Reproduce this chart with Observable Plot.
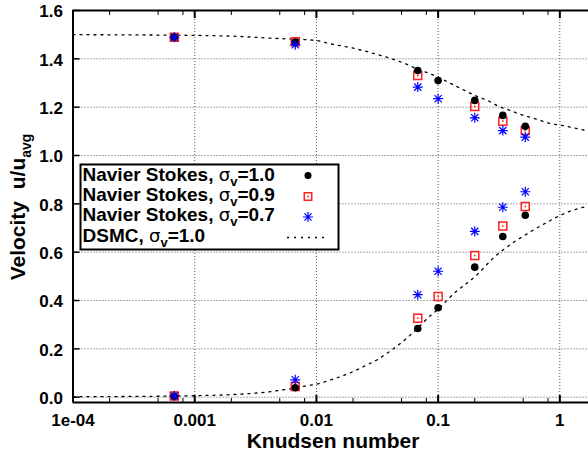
<!DOCTYPE html>
<html><head><meta charset="utf-8">
<script src="https://cdn.jsdelivr.net/npm/d3@7"></script>
<script src="https://cdn.jsdelivr.net/npm/@observablehq/plot@0.6"></script>
<style>body{margin:0;background:#fff;} svg{display:block}</style>
</head><body><div id="chart"></div>
<script>
// Knudsen numbers of the Navier-Stokes runs
const kn = [0.00068, 0.0067, 0.068, 0.1, 0.2, 0.34, 0.52];
// centre-line (upper) and wall (lower) velocities
const ns10Center = [1.489, 1.469, 1.352, 1.310, 1.228, 1.166, 1.121];
const ns10Wall   = [0.004, 0.039, 0.284, 0.370, 0.538, 0.665, 0.753];
const ns09Center = [1.489, 1.471, 1.331, null, 1.203, 1.142, 1.103];
const ns09Wall   = [0.005, 0.044, 0.327, 0.417, 0.586, 0.708, 0.789];
const ns07Center = [1.489, 1.458, 1.283, 1.235, 1.156, 1.103, 1.076];
const ns07Wall   = [0.006, 0.072, 0.424, 0.521, 0.686, 0.786, 0.850];

// DSMC curves
const dsmcUpperKn = [1e-4, 3e-4, 1e-3, 2e-3, 4.4e-3, 0.01, 0.0123, 0.0201, 0.0317, 0.0519, 0.068, 0.0865, 0.134, 0.161, 0.202, 0.254, 0.313, 0.393, 0.502, 0.630, 0.791, 1.05, 1.29, 1.72];
const dsmcUpper   = [1.500, 1.499, 1.497, 1.494, 1.485, 1.476, 1.465, 1.444, 1.418, 1.383, 1.357, 1.338, 1.292, 1.272, 1.248, 1.228, 1.204, 1.186, 1.166, 1.152, 1.135, 1.124, 1.115, 1.101];
const dsmcLowerKn = [1e-4, 3e-4, 1e-3, 3e-3, 3.9e-3, 5e-3, 8.1e-3, 0.0108, 0.0126, 0.0168, 0.0209, 0.0261, 0.0316, 0.0381, 0.0475, 0.0573, 0.0693, 0.0837, 0.101, 0.134, 0.202, 0.286, 0.418, 0.539, 0.787, 1.15, 1.72];
const dsmcLower   = [0.002, 0.003, 0.006, 0.016, 0.021, 0.028, 0.046, 0.058, 0.069, 0.090, 0.110, 0.134, 0.155, 0.182, 0.217, 0.251, 0.290, 0.331, 0.366, 0.428, 0.500, 0.577, 0.641, 0.676, 0.724, 0.765, 0.791];

// axis ticks
const xMajor = [1e-4, 1e-3, 1e-2, 1e-1, 1];
const xLabels = ["1e-04", "0.001", "0.01", "0.1", "1"];
const xMinor = [2e-4, 5e-4, 8e-4, 2e-3, 5e-3, 8e-3, 2e-2, 5e-2, 8e-2, 0.2, 0.5, 0.8];
const yMajor = [0, 0.2, 0.4, 0.6, 0.8, 1.0, 1.2, 1.4, 1.6];

const xDomain = [1e-4, 1.72];
const yDomain = [-0.022, 1.6];

function rows(yy) {
  const out = [];
  kn.forEach((k, i) => { if (yy[i] != null) out.push({x: k, y: yy[i]}); });
  return out;
}
const pairs = (xs, ys) => xs.map((x, i) => ({x, y: ys[i]}));

const asterisk8 = {
  draw(ctx, size) {
    const r = Math.sqrt(size / Math.PI);
    const d = r * 0.72;
    ctx.moveTo(0, -r); ctx.lineTo(0, r);
    ctx.moveTo(-r, 0); ctx.lineTo(r, 0);
    ctx.moveTo(-d, -d); ctx.lineTo(d, d);
    ctx.moveTo(-d, d); ctx.lineTo(d, -d);
  }
};

const red = "#ff2020", blue = "#0000ff";
const black10 = rows(ns10Center).concat(rows(ns10Wall));
const red09 = rows(ns09Center).concat(rows(ns09Wall));
const blue07 = rows(ns07Center).concat(rows(ns07Wall));
const labelMap = new Map(xMajor.map((d, i) => [d, xLabels[i]]));

const gridStyle = {stroke: "#555", strokeOpacity: 1, strokeWidth: 1, strokeDasharray: "1,2"};
const dashStyle = {stroke: "black", strokeWidth: 1.3, strokeDasharray: "2,5"};

const chart = Plot.plot({
  width: 588, height: 455,
  marginLeft: 72.5, marginRight: 0, marginTop: 10, marginBottom: 53,
  x: {type: "log", domain: xDomain, label: null},
  y: {domain: yDomain, label: null},
  style: {fontFamily: "'Liberation Sans', Arial, sans-serif", fontWeight: "bold", fontSize: "17px", color: "black", background: "white", overflow: "visible"},
  marks: [
    Plot.gridX(xMajor.slice(1), gridStyle),
    Plot.gridY(yMajor.slice(0, -1), gridStyle),
    Plot.axisX(xMajor, {anchor: "bottom", tickSize: 0, tickPadding: 11, tickFormat: d => labelMap.get(d), label: null, fontSize: 17}),
    Plot.axisX(xMajor, {anchor: "bottom", tickSize: -7, strokeWidth: 2, tickFormat: () => "", label: null}),
    Plot.axisX(xMinor, {anchor: "bottom", tickSize: -4, strokeWidth: 1, tickFormat: () => "", label: null}),
    Plot.axisX(xMajor, {anchor: "top", tickSize: -7, strokeWidth: 2, tickFormat: () => "", label: null}),
    Plot.axisX(xMinor, {anchor: "top", tickSize: -4, strokeWidth: 1, tickFormat: () => "", label: null}),
    Plot.axisY(yMajor, {anchor: "left", tickSize: 0, tickPadding: 10, tickFormat: d3.format(".1f"), label: null, fontSize: 17, dy: 1.5}),
    Plot.axisY(yMajor, {anchor: "left", tickSize: -7, strokeWidth: 1.5, tickFormat: () => "", label: null}),
    Plot.ruleX([xDomain[0]], {stroke: "black", strokeWidth: 2}),
    Plot.ruleY([yDomain[0]], {stroke: "black", strokeWidth: 2}),
    Plot.ruleY([yDomain[1]], {stroke: "black", strokeWidth: 2}),
    Plot.line(pairs(dsmcUpperKn, dsmcUpper), {x: "x", y: "y", ...dashStyle, curve: "monotone-x"}),
    Plot.line(pairs(dsmcLowerKn, dsmcLower), {x: "x", y: "y", ...dashStyle, curve: "monotone-x"}),
    Plot.dot(red09, {x: "x", y: "y", symbol: "square", r: 4.5, fill: "none", stroke: red, strokeWidth: 1.5}),
    Plot.dot(red09, {x: "x", y: "y", r: 0.9, fill: red, stroke: "none"}),
    Plot.dot(black10, {x: "x", y: "y", r: 3.8, fill: "black", stroke: "none"}),
    Plot.dot(blue07, {x: "x", y: "y", symbol: asterisk8, r: 5, fill: "none", stroke: blue, strokeWidth: 1.2})
  ]
});
document.getElementById("chart").appendChild(chart);

// annotations: axis titles and legend
const svg = d3.select(chart);
const font = "'Liberation Sans', Arial, sans-serif";

const yt = svg.append("text")
  .attr("transform", "translate(25,207) rotate(-90)")
  .attr("text-anchor", "middle")
  .attr("font-family", font).attr("font-weight", "bold").attr("font-size", 21)
  .style("white-space", "pre").attr("fill", "black");
yt.append("tspan").text("Velocity  u/u");
yt.append("tspan").attr("font-size", 14).attr("dy", 6).text("avg");

svg.append("text")
  .attr("x", 333).attr("y", 448).attr("text-anchor", "middle")
  .attr("font-family", font).attr("font-weight", "bold").attr("font-size", 21)
  .attr("fill", "black").text("Knudsen number");

const lg = svg.append("g").attr("text-anchor", "start");
lg.append("rect").attr("x", 80.5).attr("y", 164.5).attr("width", 258).attr("height", 85)
  .attr("fill", "white").attr("stroke", "black").attr("stroke-width", 2);
const legendRows = [
  {name: "Navier Stokes, ", val: "=1.0"},
  {name: "Navier Stokes, ", val: "=0.9"},
  {name: "Navier Stokes, ", val: "=0.7"},
  {name: "DSMC, ", val: "=1.0"}
];
legendRows.forEach((r, i) => {
  const t = lg.append("text").attr("x", 82.5).attr("y", 180.5 + i * 20.4)
    .attr("text-anchor", "start")
    .attr("font-family", font).attr("font-weight", "bold").attr("font-size", 19).attr("fill", "black")
    .style("white-space", "pre");
  t.append("tspan").text(r.name);
  t.append("tspan").attr("font-weight", "normal").attr("font-family", "'DejaVu Sans', sans-serif").attr("font-size", 18).text("σ");
  t.append("tspan").attr("font-size", 13).attr("dy", 5).text("v");
  t.append("tspan").attr("dy", -5).text(r.val);
});
const sx = 308;
lg.append("circle").attr("cx", sx).attr("cy", 175.5).attr("r", 3.5).attr("fill", "black");
lg.append("path").attr("transform", `translate(${sx},196.5)`).attr("d", d3.symbol(d3.symbolSquare, Math.PI * 4.2 * 4.2)())
  .attr("fill", "none").attr("stroke", red).attr("stroke-width", 1.5);
lg.append("circle").attr("cx", sx).attr("cy", 196.5).attr("r", 0.9).attr("fill", red);
lg.append("path").attr("transform", `translate(${sx},217)`).attr("d", d3.symbol(asterisk8, Math.PI * 25)())
  .attr("fill", "none").attr("stroke", blue).attr("stroke-width", 1.2);
lg.append("line").attr("x1", 287).attr("x2", 328).attr("y1", 237.5).attr("y2", 237.5)
  .attr("stroke", "black").attr("stroke-width", 1.3).attr("stroke-dasharray", "2,5");
</script>
</body></html>
